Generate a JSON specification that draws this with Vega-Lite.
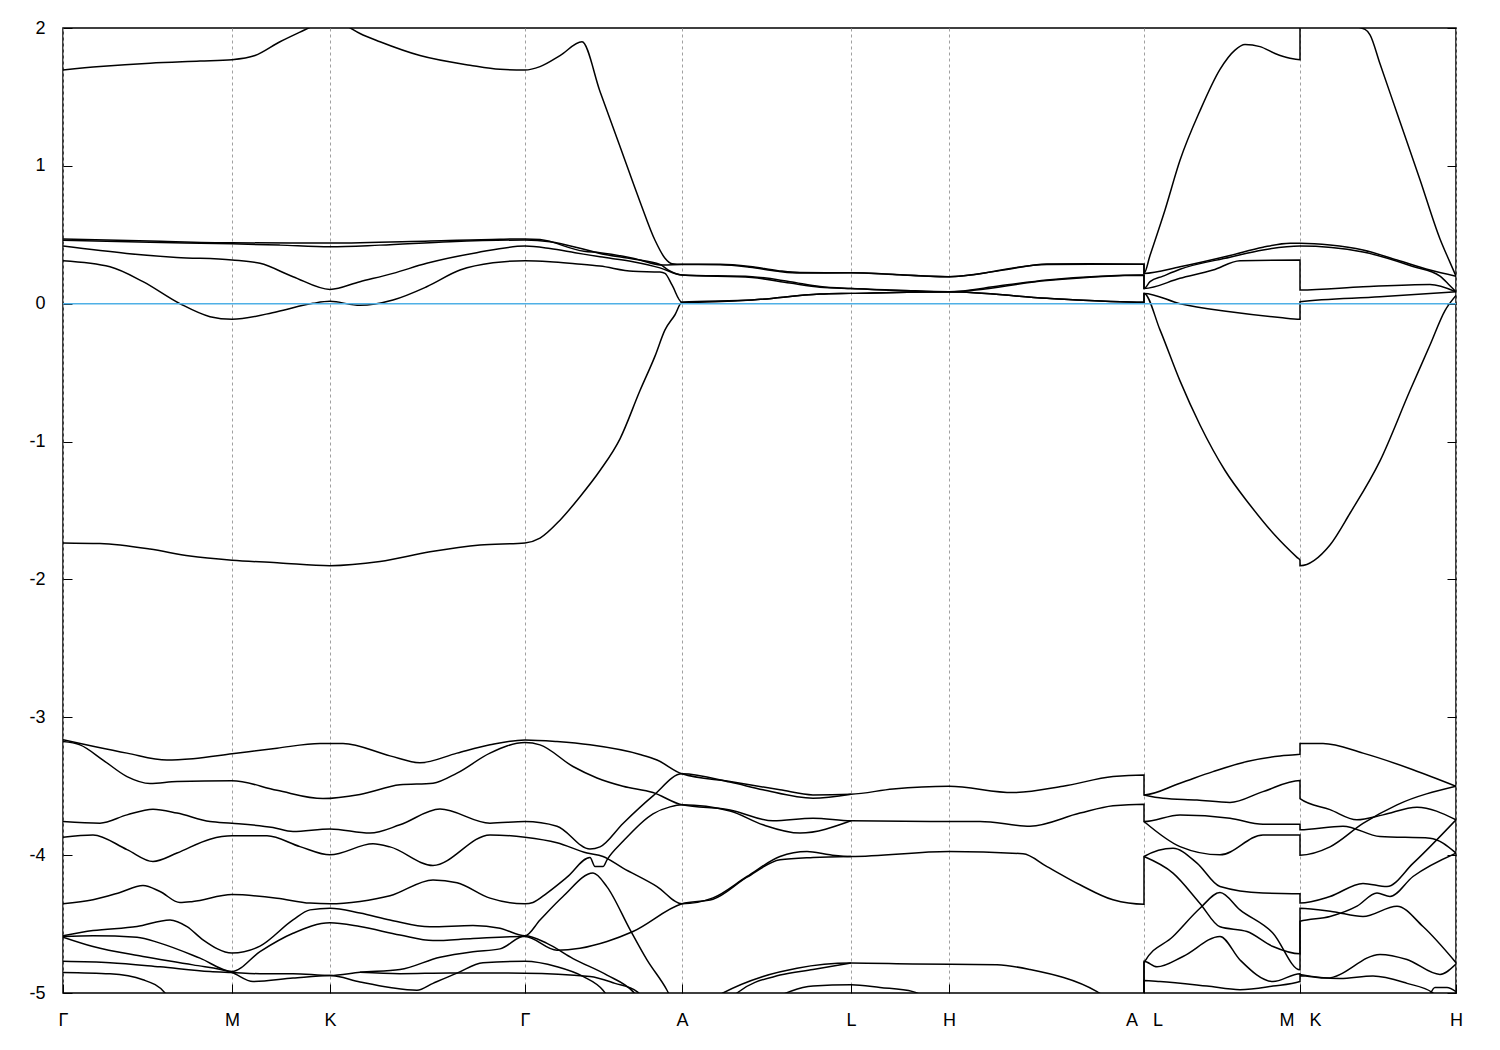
{
"$schema": "https://vega.github.io/schema/vega-lite/v6.json",
"width": 1393, "height": 965,
"autosize": {"type": "none"},
"padding": {"left": 63, "top": 28, "right": 44, "bottom": 57},
"background": "white",
"config": {"view": {"stroke": "black", "strokeWidth": 1.5}, "font": "Liberation Sans"},
"resolve": {"axis": {"y": "independent"}},
"layer": [
{
"data": {"values": [
{"s":"b1","x":0,"y":1.695},{"s":"b1","x":0.37,"y":1.72},{"s":"b1","x":0.87,"y":1.745},{"s":"b1","x":1.37,"y":1.76},{"s":"b1","x":1.69,"y":1.77},{"s":"b1","x":1.92,"y":1.80},{"s":"b1","x":2.17,"y":1.90},{"s":"b1","x":2.37,"y":1.97},{"s":"b1","x":2.52,"y":2.02},{"s":"b1","x":2.67,"y":2.05},{"s":"b1","x":2.82,"y":2.02},{"s":"b1","x":2.97,"y":1.96},{"s":"b1","x":3.17,"y":1.90},{"s":"b1","x":3.57,"y":1.80},{"s":"b1","x":4.07,"y":1.73},{"s":"b1","x":4.37,"y":1.70},{"s":"b1","x":4.62,"y":1.695},{"s":"b1","x":4.77,"y":1.72},{"s":"b1","x":4.97,"y":1.80},{"s":"b1","x":5.19,"y":1.90},{"s":"b1","x":5.37,"y":1.54},{"s":"b1","x":5.57,"y":1.14},{"s":"b1","x":5.77,"y":0.74},{"s":"b1","x":5.92,"y":0.46},{"s":"b1","x":6.02,"y":0.33},{"s":"b1","x":6.09,"y":0.29},{"s":"b1","x":6.19,"y":0.286},{"s":"b1","x":6.37,"y":0.286},{"s":"b1","x":6.57,"y":0.286},{"s":"b1","x":6.87,"y":0.27},{"s":"b1","x":7.15,"y":0.24},{"s":"b1","x":7.37,"y":0.226},{"s":"b1","x":7.88,"y":0.225},{"s":"b1","x":8.37,"y":0.21},{"s":"b1","x":8.86,"y":0.196},{"s":"b1","x":9.37,"y":0.24},{"s":"b1","x":9.84,"y":0.288},{"s":"b1","x":10.27,"y":0.29},{"s":"b1","x":10.81,"y":0.286},{"s":"b1","x":10.81,"y":0.22},{"s":"b1","x":10.87,"y":0.35},{"s":"b1","x":11.02,"y":0.68},{"s":"b1","x":11.17,"y":1.04},{"s":"b1","x":11.37,"y":1.40},{"s":"b1","x":11.57,"y":1.70},{"s":"b1","x":11.72,"y":1.84},{"s":"b1","x":11.82,"y":1.88},{"s":"b1","x":11.97,"y":1.865},{"s":"b1","x":12.12,"y":1.815},{"s":"b1","x":12.27,"y":1.78},{"s":"b1","x":12.37,"y":1.77},{"s":"b1","x":12.37,"y":2.05},{"s":"b1","x":12.77,"y":2.03},{"s":"b1","x":13.02,"y":1.99},{"s":"b1","x":13.07,"y":1.95},{"s":"b1","x":13.17,"y":1.74},{"s":"b1","x":13.37,"y":1.32},{"s":"b1","x":13.57,"y":0.90},{"s":"b1","x":13.77,"y":0.47},{"s":"b1","x":13.87,"y":0.30},{"s":"b1","x":13.93,"y":0.20},
{"s":"b2","x":0,"y":0.47},{"s":"b2","x":0.87,"y":0.455},{"s":"b2","x":1.69,"y":0.442},{"s":"b2","x":2.67,"y":0.44},{"s":"b2","x":3.67,"y":0.455},{"s":"b2","x":4.37,"y":0.468},{"s":"b2","x":4.62,"y":0.47},{"s":"b2","x":4.77,"y":0.465},{"s":"b2","x":5.21,"y":0.38},{"s":"b2","x":5.37,"y":0.37},{"s":"b2","x":5.70,"y":0.33},{"s":"b2","x":6.00,"y":0.28},{"s":"b2","x":6.19,"y":0.284},{"s":"b2","x":6.57,"y":0.283},{"s":"b2","x":6.87,"y":0.265},{"s":"b2","x":7.15,"y":0.235},{"s":"b2","x":7.37,"y":0.222},{"s":"b2","x":7.88,"y":0.225},{"s":"b2","x":8.86,"y":0.196},{"s":"b2","x":9.84,"y":0.285},{"s":"b2","x":10.81,"y":0.286},{"s":"b2","x":10.81,"y":0.22},{"s":"b2","x":11.17,"y":0.268},{"s":"b2","x":11.67,"y":0.35},{"s":"b2","x":12.00,"y":0.41},{"s":"b2","x":12.27,"y":0.438},{"s":"b2","x":12.37,"y":0.438},{"s":"b2","x":12.67,"y":0.426},{"s":"b2","x":13.00,"y":0.39},{"s":"b2","x":13.34,"y":0.317},{"s":"b2","x":13.67,"y":0.244},{"s":"b2","x":13.93,"y":0.20},
{"s":"b3","x":0,"y":0.46},{"s":"b3","x":0.87,"y":0.445},{"s":"b3","x":1.69,"y":0.435},{"s":"b3","x":2.17,"y":0.425},{"s":"b3","x":2.67,"y":0.413},{"s":"b3","x":3.17,"y":0.425},{"s":"b3","x":3.87,"y":0.45},{"s":"b3","x":4.62,"y":0.462},{"s":"b3","x":4.87,"y":0.45},{"s":"b3","x":5.21,"y":0.395},{"s":"b3","x":5.37,"y":0.365},{"s":"b3","x":5.70,"y":0.325},{"s":"b3","x":5.97,"y":0.285},{"s":"b3","x":6.05,"y":0.245},{"s":"b3","x":6.19,"y":0.208},{"s":"b3","x":6.89,"y":0.196},{"s":"b3","x":7.27,"y":0.16},{"s":"b3","x":7.57,"y":0.125},{"s":"b3","x":7.88,"y":0.11},{"s":"b3","x":8.37,"y":0.098},{"s":"b3","x":8.86,"y":0.087},{"s":"b3","x":9.37,"y":0.13},{"s":"b3","x":9.84,"y":0.172},{"s":"b3","x":10.37,"y":0.2},{"s":"b3","x":10.81,"y":0.208},{"s":"b3","x":10.81,"y":0.11},{"s":"b3","x":10.87,"y":0.16},{"s":"b3","x":11.00,"y":0.2},{"s":"b3","x":11.17,"y":0.25},{"s":"b3","x":11.67,"y":0.337},{"s":"b3","x":12.00,"y":0.39},{"s":"b3","x":12.37,"y":0.418},{"s":"b3","x":13.00,"y":0.375},{"s":"b3","x":13.50,"y":0.27},{"s":"b3","x":13.77,"y":0.2},{"s":"b3","x":13.87,"y":0.13},{"s":"b3","x":13.93,"y":0.087},
{"s":"b4","x":0,"y":0.418},{"s":"b4","x":0.637,"y":0.365},{"s":"b4","x":1.137,"y":0.336},{"s":"b4","x":1.69,"y":0.317},{"s":"b4","x":1.97,"y":0.293},{"s":"b4","x":2.30,"y":0.196},{"s":"b4","x":2.67,"y":0.104},{"s":"b4","x":2.97,"y":0.16},{"s":"b4","x":3.30,"y":0.22},{"s":"b4","x":3.637,"y":0.293},{"s":"b4","x":4.137,"y":0.37},{"s":"b4","x":4.62,"y":0.418},{"s":"b4","x":4.87,"y":0.40},{"s":"b4","x":5.12,"y":0.37},{"s":"b4","x":5.37,"y":0.34},{"s":"b4","x":5.70,"y":0.305},{"s":"b4","x":5.97,"y":0.26},{"s":"b4","x":6.19,"y":0.208},{"s":"b4","x":6.89,"y":0.19},{"s":"b4","x":7.27,"y":0.15},{"s":"b4","x":7.57,"y":0.12},{"s":"b4","x":7.88,"y":0.11},{"s":"b4","x":8.86,"y":0.087},{"s":"b4","x":9.84,"y":0.168},{"s":"b4","x":10.81,"y":0.206},{"s":"b4","x":10.81,"y":0.11},{"s":"b4","x":11.17,"y":0.184},{"s":"b4","x":11.50,"y":0.244},{"s":"b4","x":11.77,"y":0.312},{"s":"b4","x":12.37,"y":0.317},{"s":"b4","x":12.37,"y":0.10},{"s":"b4","x":13.00,"y":0.123},{"s":"b4","x":13.67,"y":0.14},{"s":"b4","x":13.93,"y":0.087},
{"s":"b5","x":0,"y":0.312},{"s":"b5","x":0.47,"y":0.268},{"s":"b5","x":0.80,"y":0.16},{"s":"b5","x":1.17,"y":0.0},{"s":"b5","x":1.47,"y":-0.094},{"s":"b5","x":1.69,"y":-0.113},{"s":"b5","x":2.14,"y":-0.058},{"s":"b5","x":2.50,"y":0.003},{"s":"b5","x":2.67,"y":0.017},{"s":"b5","x":2.97,"y":-0.012},{"s":"b5","x":3.30,"y":0.027},{"s":"b5","x":3.637,"y":0.123},{"s":"b5","x":3.97,"y":0.244},{"s":"b5","x":4.30,"y":0.297},{"s":"b5","x":4.62,"y":0.312},{"s":"b5","x":4.87,"y":0.305},{"s":"b5","x":5.12,"y":0.29},{"s":"b5","x":5.37,"y":0.273},{"s":"b5","x":5.70,"y":0.235},{"s":"b5","x":5.97,"y":0.23},{"s":"b5","x":6.02,"y":0.22},{"s":"b5","x":6.09,"y":0.136},{"s":"b5","x":6.19,"y":0.01},{"s":"b5","x":6.89,"y":0.027},{"s":"b5","x":7.57,"y":0.07},{"s":"b5","x":7.88,"y":0.075},{"s":"b5","x":8.86,"y":0.087},{"s":"b5","x":9.84,"y":0.039},{"s":"b5","x":10.81,"y":0.01},{"s":"b5","x":10.81,"y":0.075},{"s":"b5","x":11.17,"y":0.0},{"s":"b5","x":11.67,"y":-0.058},{"s":"b5","x":12.17,"y":-0.10},{"s":"b5","x":12.37,"y":-0.113},{"s":"b5","x":12.37,"y":0.015},{"s":"b5","x":13.17,"y":0.05},{"s":"b5","x":13.93,"y":0.087},
{"s":"b6","x":0,"y":-1.735},{"s":"b6","x":0.37,"y":-1.74},{"s":"b6","x":0.87,"y":-1.78},{"s":"b6","x":1.27,"y":-1.83},{"s":"b6","x":1.69,"y":-1.86},{"s":"b6","x":2.17,"y":-1.88},{"s":"b6","x":2.67,"y":-1.90},{"s":"b6","x":3.17,"y":-1.87},{"s":"b6","x":3.67,"y":-1.80},{"s":"b6","x":4.17,"y":-1.75},{"s":"b6","x":4.62,"y":-1.735},{"s":"b6","x":4.77,"y":-1.70},{"s":"b6","x":4.97,"y":-1.57},{"s":"b6","x":5.17,"y":-1.40},{"s":"b6","x":5.37,"y":-1.21},{"s":"b6","x":5.57,"y":-0.98},{"s":"b6","x":5.77,"y":-0.63},{"s":"b6","x":5.92,"y":-0.38},{"s":"b6","x":6.02,"y":-0.19},{"s":"b6","x":6.12,"y":-0.08},{"s":"b6","x":6.19,"y":0.01},{"s":"b6","x":6.89,"y":0.027},{"s":"b6","x":7.57,"y":0.07},{"s":"b6","x":7.88,"y":0.075},{"s":"b6","x":8.86,"y":0.087},{"s":"b6","x":9.84,"y":0.039},{"s":"b6","x":10.81,"y":0.01},{"s":"b6","x":10.81,"y":0.075},{"s":"b6","x":10.97,"y":-0.19},{"s":"b6","x":11.17,"y":-0.56},{"s":"b6","x":11.37,"y":-0.88},{"s":"b6","x":11.62,"y":-1.21},{"s":"b6","x":11.87,"y":-1.46},{"s":"b6","x":12.12,"y":-1.68},{"s":"b6","x":12.34,"y":-1.84},{"s":"b6","x":12.37,"y":-1.86},{"s":"b6","x":12.37,"y":-1.90},{"s":"b6","x":12.67,"y":-1.75},{"s":"b6","x":12.87,"y":-1.52},{"s":"b6","x":13.17,"y":-1.14},{"s":"b6","x":13.47,"y":-0.63},{"s":"b6","x":13.67,"y":-0.30},{"s":"b6","x":13.82,"y":-0.05},{"s":"b6","x":13.93,"y":0.06},
{"s":"L1","x":0,"y":-3.163},{"s":"L1","x":0.30,"y":-3.21},{"s":"L1","x":0.64,"y":-3.26},{"s":"L1","x":1.04,"y":-3.31},{"s":"L1","x":1.30,"y":-3.30},{"s":"L1","x":1.69,"y":-3.265},{"s":"L1","x":2.14,"y":-3.224},{"s":"L1","x":2.57,"y":-3.19},{"s":"L1","x":2.80,"y":-3.19},{"s":"L1","x":3.27,"y":-3.28},{"s":"L1","x":3.57,"y":-3.33},{"s":"L1","x":3.94,"y":-3.26},{"s":"L1","x":4.27,"y":-3.20},{"s":"L1","x":4.62,"y":-3.164},{"s":"L1","x":4.94,"y":-3.176},{"s":"L1","x":5.27,"y":-3.20},{"s":"L1","x":5.77,"y":-3.27},{"s":"L1","x":5.94,"y":-3.31},{"s":"L1","x":6.19,"y":-3.41},{"s":"L1","x":6.67,"y":-3.466},{"s":"L1","x":7.17,"y":-3.526},{"s":"L1","x":7.50,"y":-3.563},{"s":"L1","x":7.88,"y":-3.558},{"s":"L1","x":8.30,"y":-3.52},{"s":"L1","x":8.86,"y":-3.50},{"s":"L1","x":9.50,"y":-3.546},{"s":"L1","x":10.00,"y":-3.50},{"s":"L1","x":10.50,"y":-3.43},{"s":"L1","x":10.81,"y":-3.418},{"s":"L1","x":10.81,"y":-3.563},{"s":"L1","x":11.17,"y":-3.478},{"s":"L1","x":11.50,"y":-3.394},{"s":"L1","x":11.84,"y":-3.32},{"s":"L1","x":12.17,"y":-3.28},{"s":"L1","x":12.37,"y":-3.268},{"s":"L1","x":12.37,"y":-3.19},{"s":"L1","x":12.60,"y":-3.19},{"s":"L1","x":13.00,"y":-3.26},{"s":"L1","x":13.50,"y":-3.38},{"s":"L1","x":13.93,"y":-3.50},
{"s":"P3","x":0,"y":-3.756},{"s":"P3","x":0.37,"y":-3.768},{"s":"P3","x":0.64,"y":-3.708},{"s":"P3","x":0.90,"y":-3.667},{"s":"P3","x":1.14,"y":-3.695},{"s":"P3","x":1.47,"y":-3.756},{"s":"P3","x":1.69,"y":-3.768},{"s":"P3","x":2.10,"y":-3.80},{"s":"P3","x":2.30,"y":-3.829},{"s":"P3","x":2.67,"y":-3.81},{"s":"P3","x":3.07,"y":-3.84},{"s":"P3","x":3.37,"y":-3.78},{"s":"P3","x":3.77,"y":-3.666},{"s":"P3","x":4.27,"y":-3.768},{"s":"P3","x":4.62,"y":-3.756},{"s":"P3","x":4.94,"y":-3.79},{"s":"P3","x":5.27,"y":-3.956},{"s":"P3","x":5.37,"y":-3.94},{"s":"P3","x":5.60,"y":-3.77},{"s":"P3","x":5.90,"y":-3.57},{"s":"P3","x":6.19,"y":-3.41},{"s":"P3","x":6.67,"y":-3.47},{"s":"P3","x":7.00,"y":-3.526},{"s":"P3","x":7.50,"y":-3.587},{"s":"P3","x":7.88,"y":-3.558},
{"s":"P2","x":0,"y":-3.176},{"s":"P2","x":0.17,"y":-3.20},{"s":"P2","x":0.40,"y":-3.31},{"s":"P2","x":0.64,"y":-3.43},{"s":"P2","x":0.87,"y":-3.48},{"s":"P2","x":1.14,"y":-3.466},{"s":"P2","x":1.69,"y":-3.46},{"s":"P2","x":2.14,"y":-3.53},{"s":"P2","x":2.60,"y":-3.59},{"s":"P2","x":2.97,"y":-3.56},{"s":"P2","x":3.37,"y":-3.49},{"s":"P2","x":3.70,"y":-3.478},{"s":"P2","x":3.94,"y":-3.405},{"s":"P2","x":4.27,"y":-3.26},{"s":"P2","x":4.62,"y":-3.183},{"s":"P2","x":4.77,"y":-3.20},{"s":"P2","x":5.10,"y":-3.357},{"s":"P2","x":5.34,"y":-3.44},{"s":"P2","x":5.60,"y":-3.50},{"s":"P2","x":5.90,"y":-3.546},{"s":"P2","x":6.19,"y":-3.635},{"s":"P2","x":6.67,"y":-3.672},{"s":"P2","x":7.10,"y":-3.751},{"s":"P2","x":7.50,"y":-3.732},{"s":"P2","x":7.88,"y":-3.751},{"s":"P2","x":8.86,"y":-3.756},{"s":"P2","x":9.17,"y":-3.756},{"s":"P2","x":9.67,"y":-3.79},{"s":"P2","x":10.17,"y":-3.695},{"s":"P2","x":10.50,"y":-3.642},{"s":"P2","x":10.81,"y":-3.63},{"s":"P2","x":10.81,"y":-3.756},{"s":"P2","x":11.17,"y":-3.708},{"s":"P2","x":11.67,"y":-3.732},{"s":"P2","x":12.00,"y":-3.775},{"s":"P2","x":12.37,"y":-3.775},{"s":"P2","x":12.37,"y":-3.816},{"s":"P2","x":12.80,"y":-3.79},{"s":"P2","x":13.17,"y":-3.865},{"s":"P2","x":13.67,"y":-3.877},{"s":"P2","x":13.93,"y":-3.985},
{"s":"P5","x":0,"y":-4.353},{"s":"P5","x":0.30,"y":-4.324},{"s":"P5","x":0.57,"y":-4.271},{"s":"P5","x":0.80,"y":-4.22},{"s":"P5","x":0.97,"y":-4.264},{"s":"P5","x":1.17,"y":-4.344},{"s":"P5","x":1.30,"y":-4.336},{"s":"P5","x":1.69,"y":-4.286},{"s":"P5","x":2.14,"y":-4.312},{"s":"P5","x":2.47,"y":-4.348},{"s":"P5","x":2.67,"y":-4.353},{"s":"P5","x":2.97,"y":-4.336},{"s":"P5","x":3.27,"y":-4.295},{"s":"P5","x":3.70,"y":-4.18},{"s":"P5","x":3.94,"y":-4.20},{"s":"P5","x":4.27,"y":-4.312},{"s":"P5","x":4.62,"y":-4.353},{"s":"P5","x":4.70,"y":-4.343},{"s":"P5","x":4.84,"y":-4.275},{"s":"P5","x":5.04,"y":-4.16},{"s":"P5","x":5.27,"y":-4.017},{"s":"P5","x":5.32,"y":-4.083},{"s":"P5","x":5.40,"y":-4.083},{"s":"P5","x":5.44,"y":-4.034},{"s":"P5","x":5.60,"y":-3.90},{"s":"P5","x":5.90,"y":-3.70},{"s":"P5","x":6.07,"y":-3.65},{"s":"P5","x":6.19,"y":-3.635},{"s":"P5","x":6.67,"y":-3.68},{"s":"P5","x":7.00,"y":-3.78},{"s":"P5","x":7.37,"y":-3.84},{"s":"P5","x":7.88,"y":-3.751},
{"s":"P4","x":0,"y":-3.87},{"s":"P4","x":0.30,"y":-3.853},{"s":"P4","x":0.64,"y":-3.96},{"s":"P4","x":0.90,"y":-4.046},{"s":"P4","x":1.14,"y":-3.985},{"s":"P4","x":1.47,"y":-3.884},{"s":"P4","x":1.69,"y":-3.86},{"s":"P4","x":2.04,"y":-3.86},{"s":"P4","x":2.37,"y":-3.938},{"s":"P4","x":2.67,"y":-3.998},{"s":"P4","x":3.10,"y":-3.918},{"s":"P4","x":3.27,"y":-3.94},{"s":"P4","x":3.70,"y":-4.075},{"s":"P4","x":4.27,"y":-3.853},{"s":"P4","x":4.62,"y":-3.87},{"s":"P4","x":4.94,"y":-3.91},{"s":"P4","x":5.24,"y":-3.985},{"s":"P4","x":5.40,"y":-4.01},{"s":"P4","x":5.60,"y":-4.094},{"s":"P4","x":5.94,"y":-4.228},{"s":"P4","x":6.19,"y":-4.353},{"s":"P4","x":6.50,"y":-4.31},{"s":"P4","x":6.84,"y":-4.155},{"s":"P4","x":7.17,"y":-4.01},{"s":"P4","x":7.44,"y":-3.974},{"s":"P4","x":7.67,"y":-3.998},{"s":"P4","x":7.88,"y":-4.01},{"s":"P4","x":8.86,"y":-3.974},{"s":"P4","x":9.60,"y":-3.99},{"s":"P4","x":9.84,"y":-4.083},{"s":"P4","x":10.17,"y":-4.215},{"s":"P4","x":10.50,"y":-4.324},{"s":"P4","x":10.81,"y":-4.356},{"s":"P4","x":10.81,"y":-4.01},{"s":"P4","x":11.10,"y":-3.95},{"s":"P4","x":11.34,"y":-4.058},{"s":"P4","x":11.57,"y":-4.228},{"s":"P4","x":12.00,"y":-4.275},{"s":"P4","x":12.37,"y":-4.28},{"s":"P4","x":12.37,"y":-4.348},{"s":"P4","x":12.67,"y":-4.30},{"s":"P4","x":13.00,"y":-4.205},{"s":"P4","x":13.24,"y":-4.228},{"s":"P4","x":13.50,"y":-4.06},{"s":"P4","x":13.93,"y":-3.744},
{"s":"c","x":0,"y":-4.59},{"s":"c","x":0.30,"y":-4.585},{"s":"c","x":0.74,"y":-4.595},{"s":"c","x":0.97,"y":-4.638},{"s":"c","x":1.37,"y":-4.747},{"s":"c","x":1.69,"y":-4.844},{"s":"c","x":1.97,"y":-4.70},{"s":"c","x":2.30,"y":-4.567},{"s":"c","x":2.67,"y":-4.49},{"s":"c","x":2.97,"y":-4.518},{"s":"c","x":3.37,"y":-4.58},{"s":"c","x":3.70,"y":-4.62},{"s":"c","x":4.10,"y":-4.605},{"s":"c","x":4.62,"y":-4.59},{"s":"c","x":4.94,"y":-4.69},{"s":"c","x":5.17,"y":-4.675},{"s":"c","x":5.44,"y":-4.626},{"s":"c","x":5.70,"y":-4.554},{"s":"c","x":6.19,"y":-4.353},{"s":"c","x":6.50,"y":-4.32},{"s":"c","x":6.84,"y":-4.16},{"s":"c","x":7.17,"y":-4.034},{"s":"c","x":7.50,"y":-4.017},{"s":"c","x":7.88,"y":-4.01},
{"s":"b","x":0,"y":-4.585},{"s":"b","x":0.30,"y":-4.547},{"s":"b","x":0.74,"y":-4.518},{"s":"b","x":1.07,"y":-4.47},{"s":"b","x":1.24,"y":-4.518},{"s":"b","x":1.40,"y":-4.614},{"s":"b","x":1.69,"y":-4.71},{"s":"b","x":1.97,"y":-4.66},{"s":"b","x":2.30,"y":-4.47},{"s":"b","x":2.47,"y":-4.397},{"s":"b","x":2.67,"y":-4.385},{"s":"b","x":2.97,"y":-4.42},{"s":"b","x":3.27,"y":-4.47},{"s":"b","x":3.67,"y":-4.52},{"s":"b","x":4.10,"y":-4.51},{"s":"b","x":4.37,"y":-4.53},{"s":"b","x":4.62,"y":-4.585},{"s":"b","x":4.77,"y":-4.47},{"s":"b","x":5.00,"y":-4.30},{"s":"b","x":5.30,"y":-4.13},{"s":"b","x":5.44,"y":-4.23},{"s":"b","x":5.67,"y":-4.54},{"s":"b","x":5.84,"y":-4.76},{"s":"b","x":6.04,"y":-4.98},{"s":"b","x":6.09,"y":-5.05},
{"s":"d","x":0,"y":-4.595},{"s":"d","x":0.30,"y":-4.663},{"s":"d","x":0.80,"y":-4.735},{"s":"d","x":1.30,"y":-4.796},{"s":"d","x":1.69,"y":-4.851},{"s":"d","x":1.90,"y":-4.917},{"s":"d","x":2.30,"y":-4.892},{"s":"d","x":2.67,"y":-4.873},{"s":"d","x":2.97,"y":-4.92},{"s":"d","x":3.27,"y":-4.96},{"s":"d","x":3.54,"y":-4.98},{"s":"d","x":3.70,"y":-4.93},{"s":"d","x":3.94,"y":-4.856},{"s":"d","x":4.20,"y":-4.78},{"s":"d","x":4.62,"y":-4.77},{"s":"d","x":4.94,"y":-4.81},{"s":"d","x":5.20,"y":-4.88},{"s":"d","x":5.40,"y":-4.98},{"s":"d","x":5.47,"y":-5.05},
{"s":"e","x":0,"y":-4.77},{"s":"e","x":0.47,"y":-4.78},{"s":"e","x":0.97,"y":-4.81},{"s":"e","x":1.47,"y":-4.844},{"s":"e","x":1.69,"y":-4.851},{"s":"e","x":1.97,"y":-4.86},{"s":"e","x":2.30,"y":-4.86},{"s":"e","x":2.67,"y":-4.873},{"s":"e","x":2.97,"y":-4.85},{"s":"e","x":3.37,"y":-4.83},{"s":"e","x":3.77,"y":-4.74},{"s":"e","x":4.10,"y":-4.70},{"s":"e","x":4.37,"y":-4.68},{"s":"e","x":4.62,"y":-4.585},{"s":"e","x":4.84,"y":-4.64},{"s":"e","x":5.10,"y":-4.75},{"s":"e","x":5.44,"y":-4.87},{"s":"e","x":5.70,"y":-4.99},{"s":"e","x":5.77,"y":-5.05},
{"s":"f","x":0,"y":-4.851},{"s":"f","x":0.47,"y":-4.861},{"s":"f","x":0.80,"y":-4.904},{"s":"f","x":1.02,"y":-5.0},{"s":"f","x":1.07,"y":-5.05},
{"s":"g","x":2.97,"y":-4.85},{"s":"g","x":3.37,"y":-4.86},{"s":"g","x":3.87,"y":-4.855},{"s":"g","x":4.62,"y":-4.856},{"s":"g","x":5.27,"y":-4.88},{"s":"g","x":5.52,"y":-4.93},{"s":"g","x":5.74,"y":-4.99},{"s":"g","x":5.82,"y":-5.05},
{"s":"AB1","x":6.37,"y":-5.1},{"s":"AB1","x":6.60,"y":-5.0},{"s":"AB1","x":7.00,"y":-4.88},{"s":"AB1","x":7.34,"y":-4.82},{"s":"AB1","x":7.88,"y":-4.783},{"s":"AB1","x":8.50,"y":-4.79},{"s":"AB1","x":9.34,"y":-4.795},{"s":"AB1","x":9.67,"y":-4.83},{"s":"AB1","x":10.34,"y":-4.99},{"s":"AB1","x":10.57,"y":-5.1},{"s":"AB1","x":10.81,"y":-5.2},{"s":"AB1","x":10.81,"y":-4.78},{"s":"AB1","x":11.10,"y":-4.59},{"s":"AB1","x":11.37,"y":-4.385},{"s":"AB1","x":11.57,"y":-4.271},{"s":"AB1","x":11.77,"y":-4.397},{"s":"AB1","x":12.10,"y":-4.566},{"s":"AB1","x":12.37,"y":-4.832},{"s":"AB1","x":12.37,"y":-4.48},{"s":"AB1","x":12.67,"y":-4.445},{"s":"AB1","x":12.94,"y":-4.37},{"s":"AB1","x":13.14,"y":-4.275},{"s":"AB1","x":13.27,"y":-4.30},{"s":"AB1","x":13.50,"y":-4.155},{"s":"AB1","x":13.93,"y":-3.985},
{"s":"AB2","x":6.70,"y":-5.05},{"s":"AB2","x":6.74,"y":-5.0},{"s":"AB2","x":7.17,"y":-4.87},{"s":"AB2","x":7.50,"y":-4.83},{"s":"AB2","x":7.88,"y":-4.783},
{"s":"AB3","x":7.07,"y":-5.05},{"s":"AB3","x":7.50,"y":-4.95},{"s":"AB3","x":7.88,"y":-4.94},{"s":"AB3","x":8.17,"y":-4.96},{"s":"AB3","x":8.50,"y":-4.99},{"s":"AB3","x":8.67,"y":-5.05},
{"s":"LM5","x":10.81,"y":-4.01},{"s":"LM5","x":11.10,"y":-4.13},{"s":"LM5","x":11.37,"y":-4.35},{"s":"LM5","x":11.57,"y":-4.52},{"s":"LM5","x":11.84,"y":-4.554},{"s":"LM5","x":12.10,"y":-4.663},{"s":"LM5","x":12.37,"y":-4.716},{"s":"LM5","x":12.37,"y":-4.385},{"s":"LM5","x":12.70,"y":-4.41},{"s":"LM5","x":13.00,"y":-4.445},{"s":"LM5","x":13.34,"y":-4.37},{"s":"LM5","x":13.60,"y":-4.518},{"s":"LM5","x":13.93,"y":-4.78},
{"s":"LM7","x":10.81,"y":-5.2},{"s":"LM7","x":10.81,"y":-4.77},{"s":"LM7","x":10.94,"y":-4.81},{"s":"LM7","x":11.20,"y":-4.735},{"s":"LM7","x":11.57,"y":-4.59},{"s":"LM7","x":11.77,"y":-4.76},{"s":"LM7","x":12.10,"y":-4.917},{"s":"LM7","x":12.37,"y":-4.86},{"s":"LM7","x":12.37,"y":-4.865},{"s":"LM7","x":12.77,"y":-4.895},{"s":"LM7","x":13.10,"y":-4.877},{"s":"LM7","x":13.44,"y":-4.93},{"s":"LM7","x":13.70,"y":-5.0},{"s":"LM7","x":13.82,"y":-5.1},
{"s":"LM8","x":10.81,"y":-5.2},{"s":"LM8","x":10.81,"y":-4.91},{"s":"LM8","x":10.97,"y":-4.917},{"s":"LM8","x":11.44,"y":-4.95},{"s":"LM8","x":11.77,"y":-4.976},{"s":"LM8","x":12.10,"y":-4.95},{"s":"LM8","x":12.37,"y":-4.917},{"s":"LM8","x":12.37,"y":-4.875},{"s":"LM8","x":12.64,"y":-4.892},{"s":"LM8","x":13.17,"y":-4.72},{"s":"LM8","x":13.44,"y":-4.757},{"s":"LM8","x":13.77,"y":-4.865},{"s":"LM8","x":13.93,"y":-4.79},
{"s":"Q1","x":10.81,"y":-3.563},{"s":"Q1","x":11.00,"y":-3.587},{"s":"Q1","x":11.34,"y":-3.60},{"s":"Q1","x":11.67,"y":-3.618},{"s":"Q1","x":12.00,"y":-3.539},{"s":"Q1","x":12.37,"y":-3.459},{"s":"Q1","x":12.37,"y":-3.59},{"s":"Q1","x":12.67,"y":-3.67},{"s":"Q1","x":12.94,"y":-3.744},{"s":"Q1","x":13.20,"y":-3.708},{"s":"Q1","x":13.54,"y":-3.652},{"s":"Q1","x":13.93,"y":-3.744},
{"s":"Q2","x":10.81,"y":-3.756},{"s":"Q2","x":11.17,"y":-3.938},{"s":"Q2","x":11.57,"y":-3.998},{"s":"Q2","x":12.00,"y":-3.853},{"s":"Q2","x":12.37,"y":-3.853},{"s":"Q2","x":12.37,"y":-4.0},{"s":"Q2","x":12.67,"y":-3.94},{"s":"Q2","x":13.00,"y":-3.77},{"s":"Q2","x":13.34,"y":-3.635},{"s":"Q2","x":13.93,"y":-3.50},
{"s":"k6","x":13.65,"y":-5.05},{"s":"k6","x":13.72,"y":-4.96},{"s":"k6","x":13.84,"y":-4.96},{"s":"k6","x":13.93,"y":-4.99}
]},
"mark": {"type": "line", "color": "black", "strokeWidth": 1.5, "clip": true, "interpolate": "monotone"},
"encoding": {
"x": {"field": "x", "type": "quantitative", "scale": {"domain": [0, 13.93], "nice": false, "zero": false},
 "axis": {"values": [0, 1.69, 2.67, 4.62, 6.19, 7.88, 8.86, 10.81, 12.37, 13.93], "title": null, "grid": true, "gridDash": [3, 3], "gridColor": "#a0a0a0", "gridWidth": 1, "domain": false, "tickSize": -9, "tickColor": "black", "labelPadding": 27, "labelFontSize": 18, "labelColor": "black", "labelFlush": false, "labelOverlap": false, "labelBound": false,
 "labelExpr": "datum.value == 0 || datum.value == 4.62 ? 'Γ' : datum.value == 1.69 ? 'M' : datum.value == 2.67 ? 'K' : datum.value == 6.19 ? 'A' : datum.value == 7.88 ? 'L' : datum.value == 8.86 || datum.value == 13.93 ? 'H' : datum.value == 10.81 ? 'A\u00a0\u00a0\u00a0L' : 'M\u00a0\u00a0\u00a0K'"}},
"y": {"field": "y", "type": "quantitative", "scale": {"domain": [-5, 2], "nice": false, "zero": false},
 "axis": {"values": [-5, -4, -3, -2, -1, 0, 1, 2], "title": null, "grid": false, "domain": false, "tickSize": -9, "tickColor": "black", "labelPadding": 27, "labelFontSize": 18, "labelColor": "black", "labelFlush": false, "labelExpr": "toString(datum.value)"}},
"detail": {"field": "s", "type": "nominal"}
}
},
{
"data": {"values": [{"y": 0}]},
"mark": {"type": "rule", "color": "#4fb0e6", "strokeWidth": 1.5},
"encoding": {
"y": {"field": "y", "type": "quantitative", "axis": {"orient": "right", "values": [-5, -4, -3, -2, -1, 0, 1, 2], "title": null, "grid": false, "domain": false, "labels": false, "tickSize": -9, "tickColor": "black"}}
}
}
]
}
